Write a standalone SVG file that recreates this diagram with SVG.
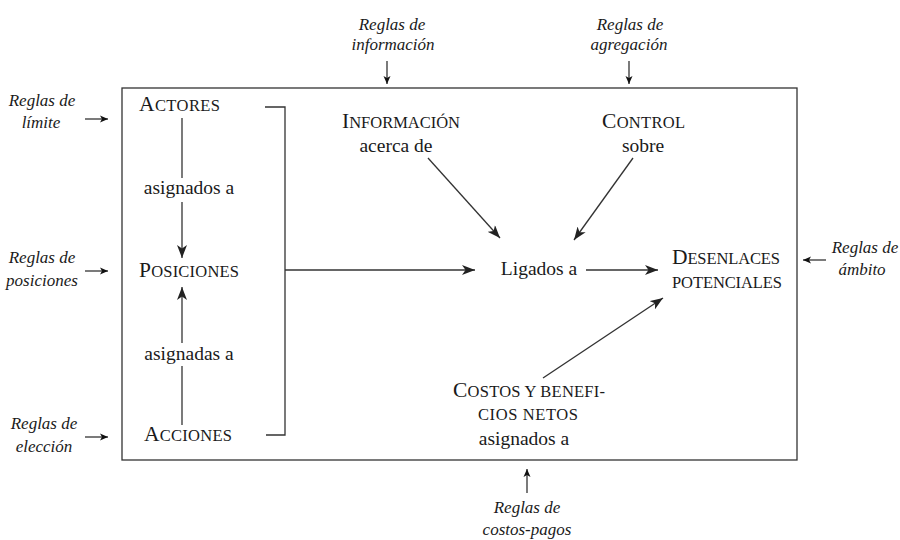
<svg xmlns="http://www.w3.org/2000/svg" width="900" height="540" viewBox="0 0 900 540">
<style>
  .lbl { font-family: "Liberation Serif", "Times New Roman", serif; font-size: 19.5px; fill: #1a1a1a; text-anchor: middle; }
  .cap { font-size: 21.5px; }
  .sc { font-size: 16.5px; }
  .it { font-family: "Liberation Serif", "Times New Roman", serif; font-style: italic; font-size: 17px; fill: #1a1a1a; text-anchor: middle; }
  .ln { stroke: #333; stroke-width: 1.3; fill: none; }
  .big { marker-end: url(#ah); }
  .small { marker-end: url(#as); }
</style>
<defs>
  <marker id="ah" markerUnits="userSpaceOnUse" markerWidth="14" markerHeight="10" refX="13" refY="5" orient="auto">
    <path d="M0,0 L13,5 L0,10 L3.5,5 Z" fill="#222"/>
  </marker>
  <marker id="as" markerUnits="userSpaceOnUse" markerWidth="9" markerHeight="8" refX="8" refY="4" orient="auto">
    <path d="M0,0.5 L8,4 L0,7.5 L2,4 Z" fill="#111"/>
  </marker>
</defs>
<rect width="900" height="540" fill="#fff"/>

<g id="frame">
  <rect x="122" y="88" width="675" height="372" class="ln"/>
</g>

<g id="connectors">
  <line x1="182" y1="118" x2="182" y2="178" class="ln"/>
  <line x1="182" y1="202" x2="182" y2="258" class="ln big"/>
  <line x1="182" y1="425" x2="182" y2="366" class="ln"/>
  <line x1="182" y1="343" x2="182" y2="287" class="ln big"/>
  <path d="M265,107 H285 V435 H266" class="ln"/>
  <line x1="285" y1="270" x2="475" y2="270" class="ln big"/>
  <line x1="428" y1="158" x2="500" y2="238" class="ln big"/>
  <line x1="633" y1="158" x2="574" y2="240" class="ln big"/>
  <line x1="586" y1="270" x2="658" y2="270" class="ln big"/>
  <line x1="543" y1="378" x2="663" y2="298" class="ln big"/>
  <line x1="85" y1="119" x2="108" y2="119" class="ln small"/>
  <line x1="85" y1="271" x2="108" y2="271" class="ln small"/>
  <line x1="85" y1="437" x2="108" y2="437" class="ln small"/>
  <line x1="387" y1="61" x2="387" y2="84" class="ln small"/>
  <line x1="629" y1="61" x2="629" y2="84" class="ln small"/>
  <line x1="826" y1="260" x2="803" y2="260" class="ln small"/>
  <line x1="527" y1="493" x2="527" y2="469" class="ln small"/>
</g>

<g id="actores"><text x="179.5" y="111" class="lbl" textLength="81" lengthAdjust="spacing"><tspan class="cap">A</tspan><tspan class="sc">CTORES</tspan></text></g>
<g id="asignados1"><text x="189" y="194" class="lbl">asignados a</text></g>
<g id="posiciones"><text x="189" y="277" class="lbl" textLength="100" lengthAdjust="spacing"><tspan class="cap">P</tspan><tspan class="sc">OSICIONES</tspan></text></g>
<g id="asignadas"><text x="189" y="360" class="lbl">asignadas a</text></g>
<g id="acciones"><text x="188" y="441" class="lbl" textLength="88" lengthAdjust="spacing"><tspan class="cap">A</tspan><tspan class="sc">CCIONES</tspan></text></g>

<g id="informacion">
  <text x="401" y="128" class="lbl" textLength="118" lengthAdjust="spacing"><tspan class="cap">I</tspan><tspan class="sc">NFORMACIÓN</tspan></text>
  <text x="396" y="152" class="lbl">acerca de</text>
</g>
<g id="control">
  <text x="643.5" y="128" class="lbl" textLength="83" lengthAdjust="spacing"><tspan class="cap">C</tspan><tspan class="sc">ONTROL</tspan></text>
  <text x="643" y="152" class="lbl">sobre</text>
</g>
<g id="ligados"><text x="539" y="275" class="lbl">Ligados a</text></g>
<g id="desenlaces">
  <text x="726" y="264" class="lbl" textLength="108" lengthAdjust="spacing"><tspan class="cap">D</tspan><tspan class="sc">ESENLACES</tspan></text>
  <text x="727" y="288" class="lbl" textLength="110" lengthAdjust="spacing"><tspan class="sc">POTENCIALES</tspan></text>
</g>
<g id="costos">
  <text x="529" y="397" class="lbl" textLength="152" lengthAdjust="spacing"><tspan class="cap">C</tspan><tspan class="sc">OSTOS Y BENEFI-</tspan></text>
  <text x="528" y="420" class="lbl" textLength="100" lengthAdjust="spacing"><tspan class="sc">CIOS NETOS</tspan></text>
  <text x="524" y="445" class="lbl">asignados a</text>
</g>

<g id="reglas-limite">
  <text x="42" y="106" class="it">Reglas de</text>
  <text x="41" y="128" class="it">límite</text>
</g>
<g id="reglas-posiciones">
  <text x="42" y="263" class="it">Reglas de</text>
  <text x="42" y="286" class="it">posiciones</text>
</g>
<g id="reglas-eleccion">
  <text x="44" y="429" class="it">Reglas de</text>
  <text x="44" y="452" class="it">elección</text>
</g>
<g id="reglas-informacion">
  <text x="392" y="30" class="it">Reglas de</text>
  <text x="393" y="50" class="it">información</text>
</g>
<g id="reglas-agregacion">
  <text x="630" y="30" class="it">Reglas de</text>
  <text x="629" y="50" class="it">agregación</text>
</g>
<g id="reglas-ambito">
  <text x="865" y="253" class="it">Reglas de</text>
  <text x="862" y="275" class="it">ámbito</text>
</g>
<g id="reglas-costos">
  <text x="527" y="513" class="it">Reglas de</text>
  <text x="527" y="535" class="it">costos-pagos</text>
</g>
</svg>
